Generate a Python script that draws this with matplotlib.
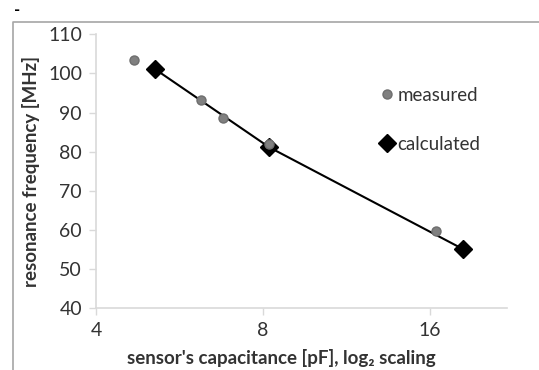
import matplotlib
matplotlib.use("Agg")
import matplotlib.pyplot as plt
from matplotlib.lines import Line2D
from matplotlib.ticker import FixedLocator, FixedFormatter, NullLocator

plt.rcParams['font.family'] = ['Lato', 'DejaVu Sans']

# Messwerte und Rechenwerte
cap_measured = [4.68, 6.18, 6.78, 8.20, 16.38]
freq_measured = [103.5, 93.3, 88.6, 82.0, 59.7]
cap_calculated = [5.10, 8.21, 18.3]
freq_calculated = [101.2, 81.1, 55.1]

x_ticks = [4, 8, 16]
x_ticklabels = ["4", "8", "16"]
y_ticks = [40, 50, 60, 70, 80, 90, 100, 110]

fig = plt.figure(figsize=(5.39, 3.70), dpi=100)
ax = fig.add_axes([0.178, 0.168, 0.763, 0.739])

ax.plot(cap_calculated, freq_calculated, color="black", lw=1.5,
        marker="D", markersize=9, markerfacecolor="black",
        markeredgecolor="black", label="calculated", zorder=2)
ax.plot(cap_measured, freq_measured, ls="none", marker="o", markersize=6.5,
        markerfacecolor="#808080", markeredgecolor="#6e6e6e",
        label="measured", zorder=3)

ax.set_xscale("log", base=2)
ax.set_xlim(4, 4 * 2 ** (411 / 167))
ax.set_ylim(40, 110)
ax.xaxis.set_major_locator(FixedLocator(x_ticks))
ax.xaxis.set_major_formatter(FixedFormatter(x_ticklabels))
ax.xaxis.set_minor_locator(NullLocator())
ax.set_yticks(y_ticks)

for side in ["top", "right"]:
    ax.spines[side].set_visible(False)
for side in ["left", "bottom"]:
    ax.spines[side].set_color("#d9d9d9")
    ax.spines[side].set_linewidth(1.2)
ax.tick_params(colors="#d9d9d9", labelcolor="#333333", labelsize=14,
               length=5, width=1, pad=5)

ax.set_xlabel("sensor's capacitance [pF], log\u2082 scaling", fontsize=13.5,
              fontweight="bold", color="#333333")
ax.set_ylabel("resonance frequency [MHz]", fontsize=13.5,
              fontweight="bold", color="#333333", labelpad=6)
# Achsentitel wie in Excel mittig auf der Diagrammflaeche
ax.xaxis.set_label_coords(0.45, -0.184)
ax.xaxis.label.set_va("center")

handles, labels = ax.get_legend_handles_labels()
leg = ax.legend(handles[::-1], labels[::-1], loc="upper left",
                bbox_to_anchor=(0.655, 0.87), frameon=False, fontsize=13.5,
                handlelength=0.5, handletextpad=0.3, labelspacing=1.7,
                labelcolor="#333333")
for h in leg.legend_handles:
    h.set_linestyle("none")

# grauer Rahmen (oben und links)
fig.add_artist(Line2D([13 / 539, 13 / 539, 1.0], [0.0, 1 - 22 / 370, 1 - 22 / 370],
                      color="#a6a6a6", lw=1.2))
fig.text(17 / 539, 1 - 10 / 370, "-", fontsize=12, fontweight="bold",
         ha="center", va="center")

fig.savefig("out.png", dpi=100)
